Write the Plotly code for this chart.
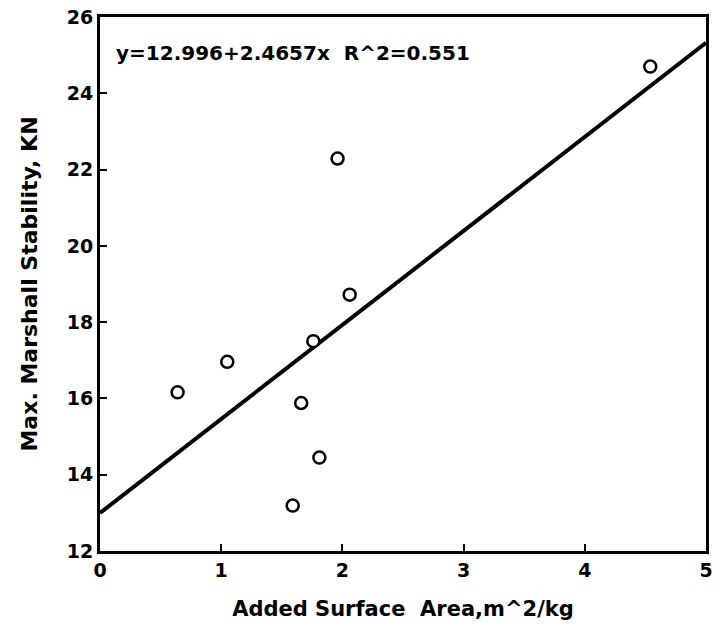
import plotly.graph_objects as go

# Data
surface_area = [0.64, 1.05, 1.76, 1.66, 1.81, 1.59, 1.96, 2.06, 4.54]
stability = [16.16, 16.96, 17.50, 15.88, 14.45, 13.19, 22.29, 18.72, 24.70]
fit_intercept = 12.996
fit_slope = 2.4657
fit_x = [0, 5]
fit_y = [fit_intercept + fit_slope * v for v in fit_x]
x_ticks = [0, 1, 2, 3, 4, 5]
y_ticks = [12, 14, 16, 18, 20, 22, 24, 26]

FONT = "DejaVu Sans"

fig = go.Figure()
fig.add_trace(go.Scatter(x=fit_x, y=fit_y, mode="lines",
                         line=dict(color="black", width=4), showlegend=False))
fig.add_trace(go.Scatter(x=surface_area, y=stability, mode="markers",
                         marker=dict(symbol="circle", size=12, color="white",
                                     line=dict(color="black", width=2.5)),
                         showlegend=False))

fig.add_annotation(x=0, y=1, xref="paper", yref="paper", xanchor="left", yanchor="top",
                   xshift=14, yshift=-22, showarrow=False,
                   text="y=12.996+2.4657x  R^2=0.551",
                   font=dict(family=FONT, size=20, color="black", weight="bold"))

axis_common = dict(showgrid=False, zeroline=False, showline=True, linecolor="black",
                   linewidth=3, mirror=True, ticks="inside", ticklen=7, tickwidth=2,
                   tickcolor="black",
                   tickfont=dict(family=FONT, size=19, color="black", weight="bold"))

fig.update_xaxes(range=[0, 5], tickvals=x_ticks,
                 title=dict(text="Added Surface  Area,m^2/kg", standoff=22,
                            font=dict(family=FONT, size=21, color="black", weight="bold")),
                 **axis_common)
fig.update_yaxes(range=[12, 26], tickvals=y_ticks,
                 title=dict(text="Max. Marshall Stability, KN", standoff=24,
                            font=dict(family=FONT, size=22, color="black", weight="bold")),
                 **axis_common)

fig.update_layout(width=719, height=635, margin=dict(l=100, r=6, t=15, b=84),
                  plot_bgcolor="white", paper_bgcolor="white")

fig.write_html("out.html")
